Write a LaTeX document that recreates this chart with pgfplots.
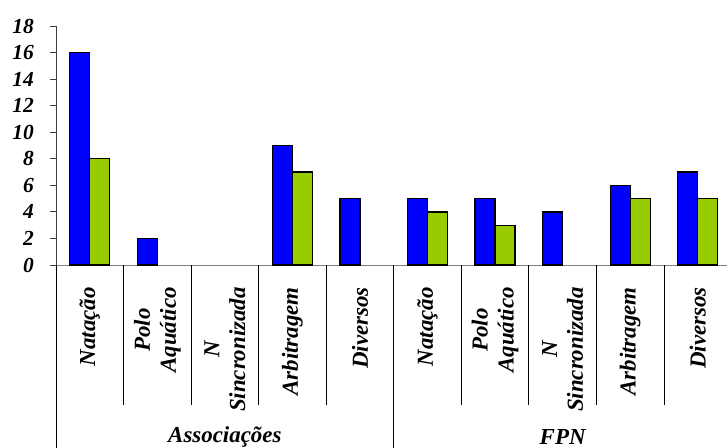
\documentclass[border=0pt]{standalone}
\usepackage{pgfplots}
\pgfplotsset{compat=1.18}
\usepackage{fontspec}
\setmainfont{Liberation Serif}
\definecolor{barblue}{RGB}{0,0,255}
\definecolor{bargreen}{RGB}{153,204,0}
\newcommand\xlab{\fontsize{23}{26}\selectfont\bfseries\itshape}
\newcommand\ylab{\fontsize{21.5}{21.5}\selectfont\bfseries\itshape}
\begin{document}
\begin{tikzpicture}
\begin{axis}[
  at={(56bp,183bp)}, anchor=south west,
  scale only axis, width=675.5bp, height=239bp,
  xmin=0, xmax=10, ymin=0, ymax=18,
  axis x line=bottom, axis y line=left,
  axis line style={-},
  x axis line style={gray, line width=0.9bp},
  y axis line style={black!75, line width=0.9bp},
  xtick=\empty,
  ytick={0,2,...,18},
  tick align=outside,
  major tick length=6bp,
  ytick style={black!75, line width=0.9bp},
  yticklabel style={font=\ylab, inner sep=0pt, xshift=-16bp},
  /pgf/number format/assume math mode=true,
  clip=false,
  ybar, bar width=0.296,
]
\addplot[fill=barblue, draw=black, line width=1.3bp, bar shift=-0.148] coordinates {
  (0.5,16) (1.5,2) (3.5,9) (4.5,5) (5.5,5) (6.5,5) (7.5,4) (8.5,6) (9.5,7)};
\addplot[fill=bargreen, draw=black, line width=1.3bp, bar shift=0.148] coordinates {
  (0.5,8) (3.5,7) (5.5,4) (6.5,3) (8.5,5) (9.5,5)};

\draw[black, line width=0.8bp] (axis cs:1,0) -- ++(0,-140bp);
\draw[black, line width=0.8bp] (axis cs:2,0) -- ++(0,-140bp);
\draw[black, line width=0.8bp] (axis cs:3,0) -- ++(0,-140bp);
\draw[black, line width=0.8bp] (axis cs:4,0) -- ++(0,-140bp);
\draw[black, line width=0.8bp] (axis cs:6,0) -- ++(0,-140bp);
\draw[black, line width=0.8bp] (axis cs:7,0) -- ++(0,-140bp);
\draw[black, line width=0.8bp] (axis cs:8,0) -- ++(0,-140bp);
\draw[black, line width=0.8bp] (axis cs:9,0) -- ++(0,-140bp);
\draw[black, line width=0.8bp] (axis cs:0,0) -- ++(0,-190bp);
\draw[black, line width=0.8bp] (axis cs:5,0) -- ++(0,-190bp);
\draw[black, line width=0.8bp] (axis cs:10,0) -- ++(0,-190bp);

\node[rotate=90, anchor=east, align=center, inner sep=0pt, font=\xlab] at ([yshift=-22bp]axis cs:0.5,0) {Natação};
\node[rotate=90, anchor=east, align=center, inner sep=0pt, font=\xlab] at ([yshift=-22bp]axis cs:1.5,0) {Polo\\Aquático};
\node[rotate=90, anchor=east, align=center, inner sep=0pt, font=\xlab] at ([yshift=-22bp]axis cs:2.5,0) {N\\Sincronizada};
\node[rotate=90, anchor=east, align=center, inner sep=0pt, font=\xlab] at ([yshift=-22bp]axis cs:3.5,0) {Arbitragem};
\node[rotate=90, anchor=east, align=center, inner sep=0pt, font=\xlab] at ([yshift=-22bp]axis cs:4.5,0) {Diversos};
\node[rotate=90, anchor=east, align=center, inner sep=0pt, font=\xlab] at ([yshift=-22bp]axis cs:5.5,0) {Natação};
\node[rotate=90, anchor=east, align=center, inner sep=0pt, font=\xlab] at ([yshift=-22bp]axis cs:6.5,0) {Polo\\Aquático};
\node[rotate=90, anchor=east, align=center, inner sep=0pt, font=\xlab] at ([yshift=-22bp]axis cs:7.5,0) {N\\Sincronizada};
\node[rotate=90, anchor=east, align=center, inner sep=0pt, font=\xlab] at ([yshift=-22bp]axis cs:8.5,0) {Arbitragem};
\node[rotate=90, anchor=east, align=center, inner sep=0pt, font=\xlab] at ([yshift=-22bp]axis cs:9.5,0) {Diversos};

\node[font=\xlab] at ([yshift=-172bp]axis cs:2.5,0) {Associações};
\node[font=\xlab] at ([yshift=-172bp]axis cs:7.5,0) {FPN};
\end{axis}
\pgfresetboundingbox
\path[use as bounding box] (0,0) rectangle (727bp,448bp);
\end{tikzpicture}
\end{document}
